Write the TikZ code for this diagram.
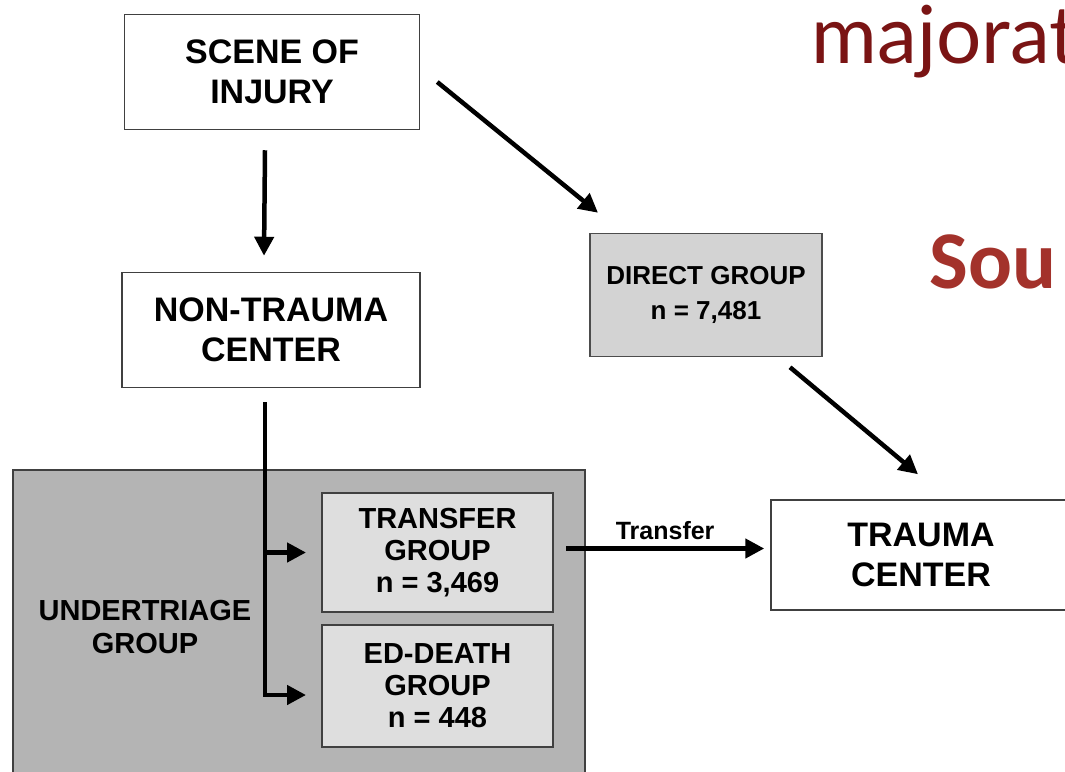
\documentclass[tikz,border=0pt]{standalone}
\usepackage{fontspec}
\setmainfont{Liberation Sans}
\newfontfamily\headfont{Lato}
\newfontfamily\subfont{Carlito}
\usetikzlibrary{arrows.meta}
\definecolor{darkred}{HTML}{7A1414}
\definecolor{brickred}{HTML}{A3322B}
\definecolor{boxgray}{HTML}{D3D3D3}
\definecolor{undergray}{HTML}{B4B4B4}
\definecolor{innergray}{HTML}{DEDEDE}
\begin{document}
\begin{tikzpicture}[x=1pt,y=-1pt]

%boxes
\tikzstyle{boxwhite} = [draw=black!75, line width=1.5pt, rectangle, align=center, inner sep=0pt, fill=white, font=\fontsize{34}{40}\selectfont\bfseries]
\tikzstyle{boxdirect} = [draw=black!70, line width=1.5pt, rectangle, align=center, inner sep=0pt, fill=boxgray, font=\fontsize{26}{35}\selectfont\bfseries]
\tikzstyle{boxunder} = [draw=black!75, line width=2pt, rectangle, fill=undergray]
\tikzstyle{boxinner} = [draw=black!75, line width=2pt, rectangle, align=center, inner sep=0pt, fill=innergray, font=\fontsize{29}{32}\selectfont\bfseries]
\tikzstyle{arr} = [line width=4.5pt, -{Triangle[length=19pt,width=19pt]}]

\useasboundingbox (0,0) rectangle (1065,771);
\clip (0,0) rectangle (1065,771);

\node (majorat) [anchor=west, text=darkred, font=\headfont\fontsize{80}{80}\selectfont] at (808,42) {majorat};
\node (sou) [anchor=west, text=brickred, font=\subfont\fontsize{82}{82}\selectfont\bfseries] at (926,262) {Sou};

\node (scene) [boxwhite, minimum width=295pt, minimum height=115pt] at (272,72) {SCENE OF\\INJURY};
\node (nontc) [boxwhite, minimum width=298pt, minimum height=115pt] at (271,330) {NON-TRAUMA\\CENTER};
\node (direct) [boxdirect, minimum width=232pt, minimum height=123pt] at (706,295) {DIRECT GROUP\\n = 7,481};
\node (trauma) [boxwhite, minimum width=300pt, minimum height=110pt] at (921,555) {TRAUMA\\CENTER};

\node (under) [boxunder, minimum width=572pt, minimum height=320pt] at (299,630) {};
\node (underlbl) [align=center, font=\fontsize{29}{33}\selectfont\bfseries] at (145,627) {UNDERTRIAGE\\GROUP};
\node (transfer) [boxinner, minimum width=231pt, minimum height=119pt] at (437.5,552.5) {TRANSFER\\GROUP\\n = 3,469};
\node (death) [boxinner, minimum width=231pt, minimum height=122pt] at (437.5,686) {ED-DEATH\\GROUP\\n = 448};

%arrows
\draw[arr] ([xshift=-7pt,yshift=-20pt]scene.south) -- ([xshift=-7pt,yshift=16pt]nontc.north);
\draw[arr] ([xshift=17pt,yshift=-10pt]scene.east) -- ([xshift=-108pt,yshift=20pt]direct.north);
\draw[arr] ([xshift=84pt,yshift=-10pt]direct.south) -- ([xshift=-3pt,yshift=25pt]trauma.north);
\draw[arr] ([xshift=-6pt,yshift=-14pt]nontc.south) |- ([xshift=-15pt,yshift=-9pt]death.west);
\draw[arr] ([xshift=-6pt]nontc.south |- transfer.west) -- ([xshift=-15pt]transfer.west);
\draw[arr] ([xshift=12pt,yshift=4pt]transfer.east) -- node[above=3pt, font=\fontsize{25}{25}\selectfont\bfseries] {Transfer} ([xshift=-6pt,yshift=4pt]transfer.east -| trauma.west);

\end{tikzpicture}
\end{document}
